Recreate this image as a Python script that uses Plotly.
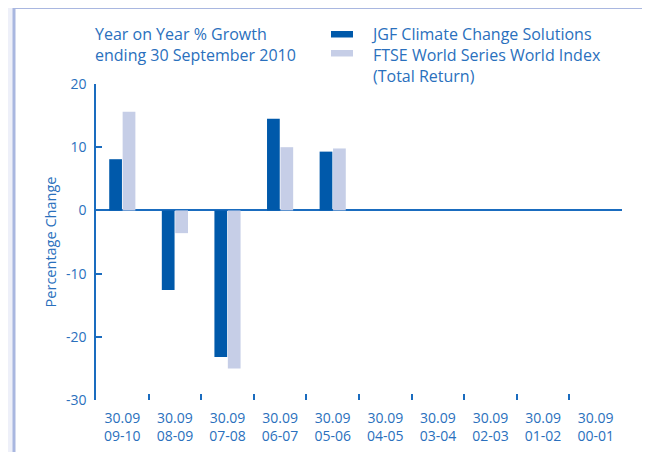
import plotly.graph_objects as go

categories = ["30.09<br>09-10", "30.09<br>08-09", "30.09<br>07-08", "30.09<br>06-07", "30.09<br>05-06",
              "30.09<br>04-05", "30.09<br>03-04", "30.09<br>02-03", "30.09<br>01-02", "30.09<br>00-01"]
jgf_values = [8.1, -12.6, -23.2, 14.5, 9.3, None, None, None, None, None]
ftse_values = [15.6, -3.6, -25.0, 10.0, 9.8, None, None, None, None, None]
y_ticks = [-30, -20, -10, 0, 10, 20]
y_tick_labels = ["-30", "-20", "-10", "0", "10", "20"]

title_text = "Year on Year % Growth<br>ending 30 September 2010"
legend_text = "JGF Climate Change Solutions<br>FTSE World Series World Index<br>(Total Return)"
series_names = ["JGF Climate Change Solutions", "FTSE World Series World Index (Total Return)"]
dark_blue = "#0059aa"
light_blue = "#c6cee7"
text_blue = "#2a70bd"
axis_blue = "#1a6cbf"
FONT = "Open Sans"
TXT = 16

# page is rendered with an 8px body margin; compensate
OFF = 8
W, H = 650 - OFF, 452 - OFF
# target plot area in page coordinates: x 96..622, y 84..400
PL, PR, PT, PB = 96, 622, 84, 400
L, R, T, B = PL - OFF, W - (PR - OFF), PT - OFF, H - (PB - OFF)
pw, ph = PR - PL, PB - PT

def px(x):
    return (x - PL) / pw

def py(y):
    return (PB - y) / ph

fig = go.Figure()
fig.add_trace(go.Bar(x=categories, y=jgf_values, name=series_names[0], marker_color=dark_blue,
                     marker_line_width=0, showlegend=False))
fig.add_trace(go.Bar(x=categories, y=ftse_values, name=series_names[1], marker_color=light_blue,
                     marker_line_width=0, showlegend=False))

shapes = [
    dict(type="rect", xref="paper", yref="paper", x0=px(14), x1=px(700), y0=py(520), y1=py(7.5),
         line=dict(color="#a9b7e0", width=3), fillcolor="white", layer="below"),
    dict(type="rect", xref="paper", yref="paper", x0=px(331), x1=px(353), y0=py(37.5), y1=py(31),
         line=dict(width=0), fillcolor=dark_blue),
    dict(type="rect", xref="paper", yref="paper", x0=px(331), x1=px(353), y0=py(56.5), y1=py(50),
         line=dict(width=0), fillcolor=light_blue),
]

# line spacing in plotly is 1.3 * font size; first line centre at y0
def text_block(t, x, y0):
    top = y0 - 0.65 * TXT - 1
    return dict(text=t, xref="paper", yref="paper", x=px(x), y=py(top), xanchor="left",
                yanchor="top", showarrow=False, align="left", borderpad=0,
                font=dict(family=FONT, size=TXT, color=text_blue))

annotations = [
    text_block(title_text, 94, 33),
    text_block(legend_text, 370, 33),
]

fig.update_layout(
    width=W, height=H,
    margin=dict(l=L, r=R, t=T, b=B),
    paper_bgcolor="#eef0f9",
    plot_bgcolor="rgba(0,0,0,0)",
    barmode="group", bargap=0.49, bargroupgap=0.05,
    shapes=shapes, annotations=annotations,
    font=dict(family=FONT, color=text_blue, size=14),
    xaxis=dict(type="category", categoryorder="array", categoryarray=categories,
               automargin=False,
               showline=False, showgrid=False, zeroline=False,
               ticks="inside", tickson="boundaries", ticklen=6, tickwidth=1.5, tickcolor=axis_blue,
               ticklabelstandoff=8,
               tickfont=dict(family=FONT, size=14, color=text_blue)),
    yaxis=dict(range=[-30, 20], tickvals=y_ticks, ticktext=y_tick_labels, showgrid=False,
               automargin=False,
               showline=True, linecolor=axis_blue, linewidth=1.5,
               ticks="inside", ticklen=6, tickwidth=1.5, tickcolor=axis_blue,
               ticklabelstandoff=5,
               zeroline=True, zerolinecolor=axis_blue, zerolinewidth=2,
               tickfont=dict(family=FONT, size=14, color=text_blue),
               title=dict(text="Percentage Change", standoff=6,
                          font=dict(family=FONT, size=14.5, color=text_blue))),
)

fig.write_html("out.html")
